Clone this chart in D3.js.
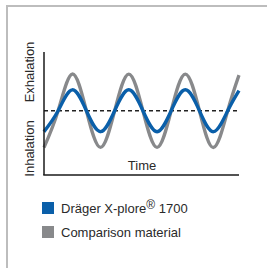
<!DOCTYPE html>
<html>
<head>
<meta charset="utf-8">
<script src="https://cdn.jsdelivr.net/npm/d3@7"></script>
<style>
  body { margin: 0; background: #fff; }
  text { font-family: "Liberation Sans", Arial, sans-serif; }
</style>
</head>
<body>
<script>
// time in breathing cycles (relative units)
const time = [0, 0.25, 0.5, 0.75, 1, 1.25, 1.5, 1.75, 2, 2.25, 2.5, 2.75, 3, 3.25, 3.45];
const comparison = [-1, 0, 1, 0, -1, 0, 1, 0, -1, 0, 1, 0, -1, 0, 0.97];
const xplore = [-0.57, 0, 0.57, 0, -0.57, 0, 0.57, 0, -0.57, 0, 0.57, 0, -0.57, 0, 0.55];
const legendItems = [
  {name: "Dräger X-plore", sup: "®", tail: " 1700", color: "#0a5fa9"},
  {name: "Comparison material", sup: "", tail: "", color: "#88898b"}
];

const W = 267, H = 268;
const svg = d3.select("body").append("svg").attr("width", W).attr("height", H);

svg.append("rect").attr("width", W).attr("height", H).attr("fill", "#fff");

// frame (top and left only visible)
svg.append("line").attr("x1", 7).attr("x2", W).attr("y1", 6).attr("y2", 6)
  .attr("stroke", "#bdbdbd").attr("stroke-width", 2);
svg.append("line").attr("x1", 7).attr("x2", 7).attr("y1", 5).attr("y2", H)
  .attr("stroke", "#bdbdbd").attr("stroke-width", 2);

const x = d3.scaleLinear().domain([0, 3.45]).range([44, 239]);
const y = d3.scaleLinear().domain([-1.75, 1.6]).range([175, 52]);

const line = d3.line().x((d, i) => x(time[i])).y(d => y(d)).curve(d3.curveNatural);

// reference (zero) line
svg.append("line").attr("x1", x(0)).attr("x2", x(3.45)).attr("y1", y(0)).attr("y2", y(0))
  .attr("stroke", "#222").attr("stroke-width", 1.5).attr("stroke-dasharray", "4,3");

svg.append("path").datum(comparison).attr("d", line)
  .attr("fill", "none").attr("stroke", "#88898b").attr("stroke-width", 3.3);
svg.append("path").datum(xplore).attr("d", line)
  .attr("fill", "none").attr("stroke", "#0a5fa9").attr("stroke-width", 3.4);

// axes
svg.append("line").attr("x1", x(0)).attr("x2", x(0)).attr("y1", y(1.6)).attr("y2", y(-1.75))
  .attr("stroke", "#1a1a1a").attr("stroke-width", 1.5);
svg.append("line").attr("x1", x(0) - 0.75).attr("x2", x(3.45)).attr("y1", y(-1.75)).attr("y2", y(-1.75))
  .attr("stroke", "#1a1a1a").attr("stroke-width", 1.5);

svg.append("text").attr("x", 142).attr("y", 170).attr("text-anchor", "middle")
  .attr("font-size", "13px").attr("fill", "#2a2a2a").text("Time");

svg.append("text").attr("transform", "translate(33.5,72) rotate(-90)")
  .attr("text-anchor", "middle").attr("font-size", "13px").attr("fill", "#2a2a2a").text("Exhalation");
svg.append("text").attr("transform", "translate(33.5,148.5) rotate(-90)")
  .attr("text-anchor", "middle").attr("font-size", "13px").attr("fill", "#2a2a2a").text("Inhalation");

// legend
const lg = svg.append("g").selectAll("g").data(legendItems).join("g")
  .attr("transform", (d, i) => `translate(42,${202 + i * 24})`);
lg.append("rect").attr("width", 12).attr("height", 12).attr("fill", d => d.color);
const lt = lg.append("text").attr("x", 19).attr("y", 11).attr("font-size", "13px").attr("fill", "#2a2a2a");
lt.append("tspan").text(d => d.name);
lt.append("tspan").attr("dy", -4).attr("font-size", "12px").text(d => d.sup);
lt.append("tspan").attr("dy", d => d.sup ? 4 : 0).text(d => d.tail);
</script>
</body>
</html>
